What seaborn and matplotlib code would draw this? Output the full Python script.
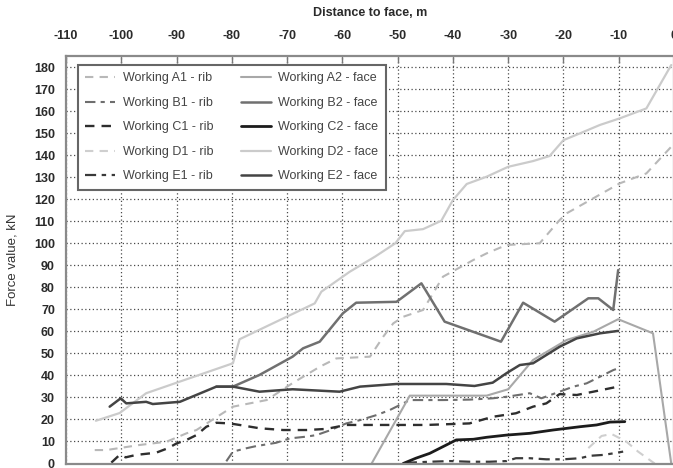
import matplotlib
matplotlib.use("Agg")
import matplotlib.pyplot as plt
import seaborn as sns

# ---------------- data ----------------
a1_x = [-104.8, -102.7, -96.7, -91.8, -88.2, -86.4, -79.8, -73.7, -69.0, -64.1, -61.1, -55.0,
        -52.6, -50.8, -49.0, -45.4, -41.8, -36.3, -33.9, -30.3, -24.3, -20.7, -19.4, -14.6,
        -9.8, -5.0, -0.5]
a1_y = [6.1, 6.1, 8.4, 9.9, 13.7, 15.2, 25.8, 28.8, 36.5, 43.9, 47.7, 48.5,
        57.6, 63.6, 66.6, 69.7, 84.8, 92.4, 95.4, 99.2, 100.0, 110.5, 113.6, 120.4,
        127.2, 131.7, 143.8]

b1_x = [-81.0, -79.8, -77.4, -75.6, -72.0, -69.5, -66.5, -64.7, -62.3, -59.3, -56.8, -53.8,
        -51.4, -47.8, -41.8, -37.0, -32.8, -30.3, -26.1, -24.0, -20.7, -18.2, -15.8, -13.4,
        -11.0, -10.1]
b1_y = [1.0, 5.4, 6.9, 7.9, 9.4, 11.4, 12.2, 12.9, 15.0, 18.2, 19.7, 22.0,
        24.3, 28.8, 28.8, 29.0, 29.6, 30.3, 31.9, 29.6, 32.6, 34.9, 36.4, 39.4,
        42.4, 43.2]

c1_x = [-101.8, -100.3, -99.2, -97.3, -93.7, -91.6, -90.0, -88.2, -86.4, -84.6, -82.8, -80.4,
        -78.6, -75.0, -70.7, -66.5, -62.9, -59.3, -55.0, -50.8, -44.8, -37.0, -32.8, -28.6,
        -25.5, -23.1, -20.7, -17.6, -14.6, -10.1]
c1_y = [0.4, 3.9, 2.8, 3.9, 4.9, 6.9, 9.1, 10.7, 12.9, 16.7, 18.5, 18.2,
        17.5, 16.0, 15.2, 15.2, 15.7, 17.5, 17.5, 17.5, 17.5, 18.2, 21.2, 22.8,
        25.8, 27.3, 31.5, 31.1, 32.6, 34.9]

d1_x = [-15.5, -13.1, -11.3, -8.6, -6.5, -4.4, -3.5]
d1_y = [7.0, 12.5, 13.4, 9.9, 5.4, 1.6, 0.0]

e1_x = [-48.5, -47.8, -44.2, -40.5, -37.0, -33.4, -30.3, -28.6, -26.1, -23.1, -20.0, -17.0,
        -15.2, -12.8, -11.0, -9.2]
e1_y = [0.0, 0.4, 0.8, 1.1, 0.8, 0.8, 1.1, 2.4, 2.4, 1.9, 1.9, 2.4,
        3.5, 3.9, 4.6, 5.4]

a2_x = [-54.7, -47.8, -33.9, -30.0, -25.5, -19.4, -14.6, -10.1, -3.8, -0.5]
a2_y = [0.0, 30.8, 30.8, 33.7, 47.0, 56.1, 59.8, 65.5, 59.1, 0.0]

b2_x = [-82.8, -79.8, -75.0, -69.0, -67.1, -64.1, -59.9, -57.5, -50.2, -45.7, -41.5, -31.3,
        -27.3, -21.6, -15.5, -13.7, -11.0, -10.1]
b2_y = [34.9, 34.9, 40.2, 48.5, 52.3, 55.3, 68.2, 73.0, 73.4, 81.8, 64.4, 55.3,
        73.0, 64.4, 75.0, 75.0, 69.7, 87.8]

c2_x = [-49.0, -46.7, -44.2, -41.2, -39.4, -36.3, -33.9, -30.3, -26.1, -21.9, -17.0, -14.0,
        -11.6, -8.9]
c2_y = [0.0, 2.4, 4.6, 8.4, 10.7, 11.0, 11.9, 12.9, 13.7, 15.2, 16.7, 17.5,
        18.8, 19.0]

d2_x = [-104.6, -100.3, -95.5, -79.8, -78.6, -65.0, -63.8, -58.7, -54.1, -50.4, -48.7, -45.4,
        -42.1, -40.0, -37.5, -33.9, -30.0, -25.5, -22.5, -20.0, -17.0, -13.4, -9.8, -5.0, -0.5]
d2_y = [19.4, 22.9, 31.9, 45.5, 56.4, 72.7, 78.0, 87.0, 93.9, 100.0, 105.5, 106.4,
        110.2, 119.6, 126.9, 130.2, 134.7, 137.3, 139.6, 146.8, 149.9, 153.7, 156.7, 161.2, 180.9]

e2_x = [-102.1, -100.1, -99.1, -95.5, -94.3, -89.4, -82.8, -79.8, -75.0, -69.0, -60.5, -56.8,
        -50.2, -41.2, -36.1, -32.8, -30.3, -27.9, -25.5, -20.7, -17.6, -13.4, -10.1]
e2_y = [25.8, 29.6, 27.3, 28.0, 27.0, 28.0, 34.9, 34.9, 32.6, 33.7, 32.6, 34.9,
        36.1, 36.1, 35.2, 36.7, 41.0, 44.7, 45.5, 53.0, 56.8, 59.1, 60.2]

labels = ["Working A1 - rib", "Working B1 - rib", "Working C1 - rib", "Working D1 - rib",
          "Working E1 - rib", "Working A2 - face", "Working B2 - face", "Working C2 - face",
          "Working D2 - face", "Working E2 - face"]
x_ticks = list(range(-110, 1, 10))
y_ticks = list(range(0, 181, 10))

# ---------------- styling ----------------
series = [
    (a1_x, a1_y, "#b8b8b8", 1.5, (0, (4, 3))),
    (b1_x, b1_y, "#6e6e6e", 1.5, (0, (5, 2.5, 2, 2.5))),
    (c1_x, c1_y, "#2e2e2e", 1.7, (0, (4, 3))),
    (d1_x, d1_y, "#cfcfcf", 1.5, (0, (4, 3))),
    (e1_x, e1_y, "#3a3a3a", 1.6, (0, (5, 2.5, 2, 2.5))),
    (a2_x, a2_y, "#a8a8a8", 1.5, "-"),
    (b2_x, b2_y, "#707070", 1.8, "-"),
    (c2_x, c2_y, "#1c1c1c", 2.0, "-"),
    (d2_x, d2_y, "#cbcbcb", 1.6, "-"),
    (e2_x, e2_y, "#444444", 1.8, "-"),
]

sns.set_theme(style="white")
plt.rcParams["font.family"] = ["Liberation Sans", "DejaVu Sans"]
plt.rcParams["axes.unicode_minus"] = False

fig = plt.figure(figsize=(6.73, 4.68), dpi=100)
ax = fig.add_axes([66 / 673, 4.5 / 468, 608 / 673, 407.5 / 468])

for (xs, ys, col, lw, ls), lab in zip(series, labels):
    sns.lineplot(x=xs, y=ys, ax=ax, color=col, linewidth=lw, linestyle=ls,
                 label=lab, sort=False, estimator=None)

ax.set_xlim(-110, 0)
ax.set_ylim(0, 185)
ax.set_xticks(x_ticks)
ax.set_yticks(y_ticks)
ax.set_xlabel("")
ax.set_ylabel("")
ax.xaxis.tick_top()
ax.tick_params(axis="x", direction="in", length=5, width=1, color="#777", pad=10,
               labelsize=9, labelcolor="#2a2a2a", top=True, bottom=False)
ax.tick_params(axis="y", direction="in", length=3, width=1, color="#777", pad=8,
               labelsize=9, labelcolor="#2a2a2a")
for t in ax.get_xticklabels() + ax.get_yticklabels():
    t.set_fontweight("bold")

ax.grid(True, color="#4a4a4a", linestyle=(0, (1, 2)), linewidth=0.9)
ax.set_axisbelow(True)
for sp in ax.spines.values():
    sp.set_color("#8a8a8a")
    sp.set_linewidth(1.6)

leg = ax.legend(ncol=2, loc="upper left", bbox_to_anchor=(0.0197, 0.671, 0.506, 0.307),
                mode="expand", borderaxespad=0, fontsize=9, frameon=True, fancybox=False,
                edgecolor="#666666", handlelength=2.4, handletextpad=0.6,
                labelspacing=1.0, borderpad=0.6, framealpha=1)
leg.get_frame().set_linewidth(1.5)
for t in leg.get_texts():
    t.set_color("#444444")

fig.text(370 / 673, 1 - 13 / 468, "Distance to face, m", ha="center", va="center",
         fontsize=9, fontweight="bold", color="#2a2a2a")
fig.text(13 / 673, 1 - 260 / 468, "Force value, kN", ha="center", va="center",
         rotation=90, fontsize=9.5, color="#333333")

fig.savefig("out.png", dpi=100)
